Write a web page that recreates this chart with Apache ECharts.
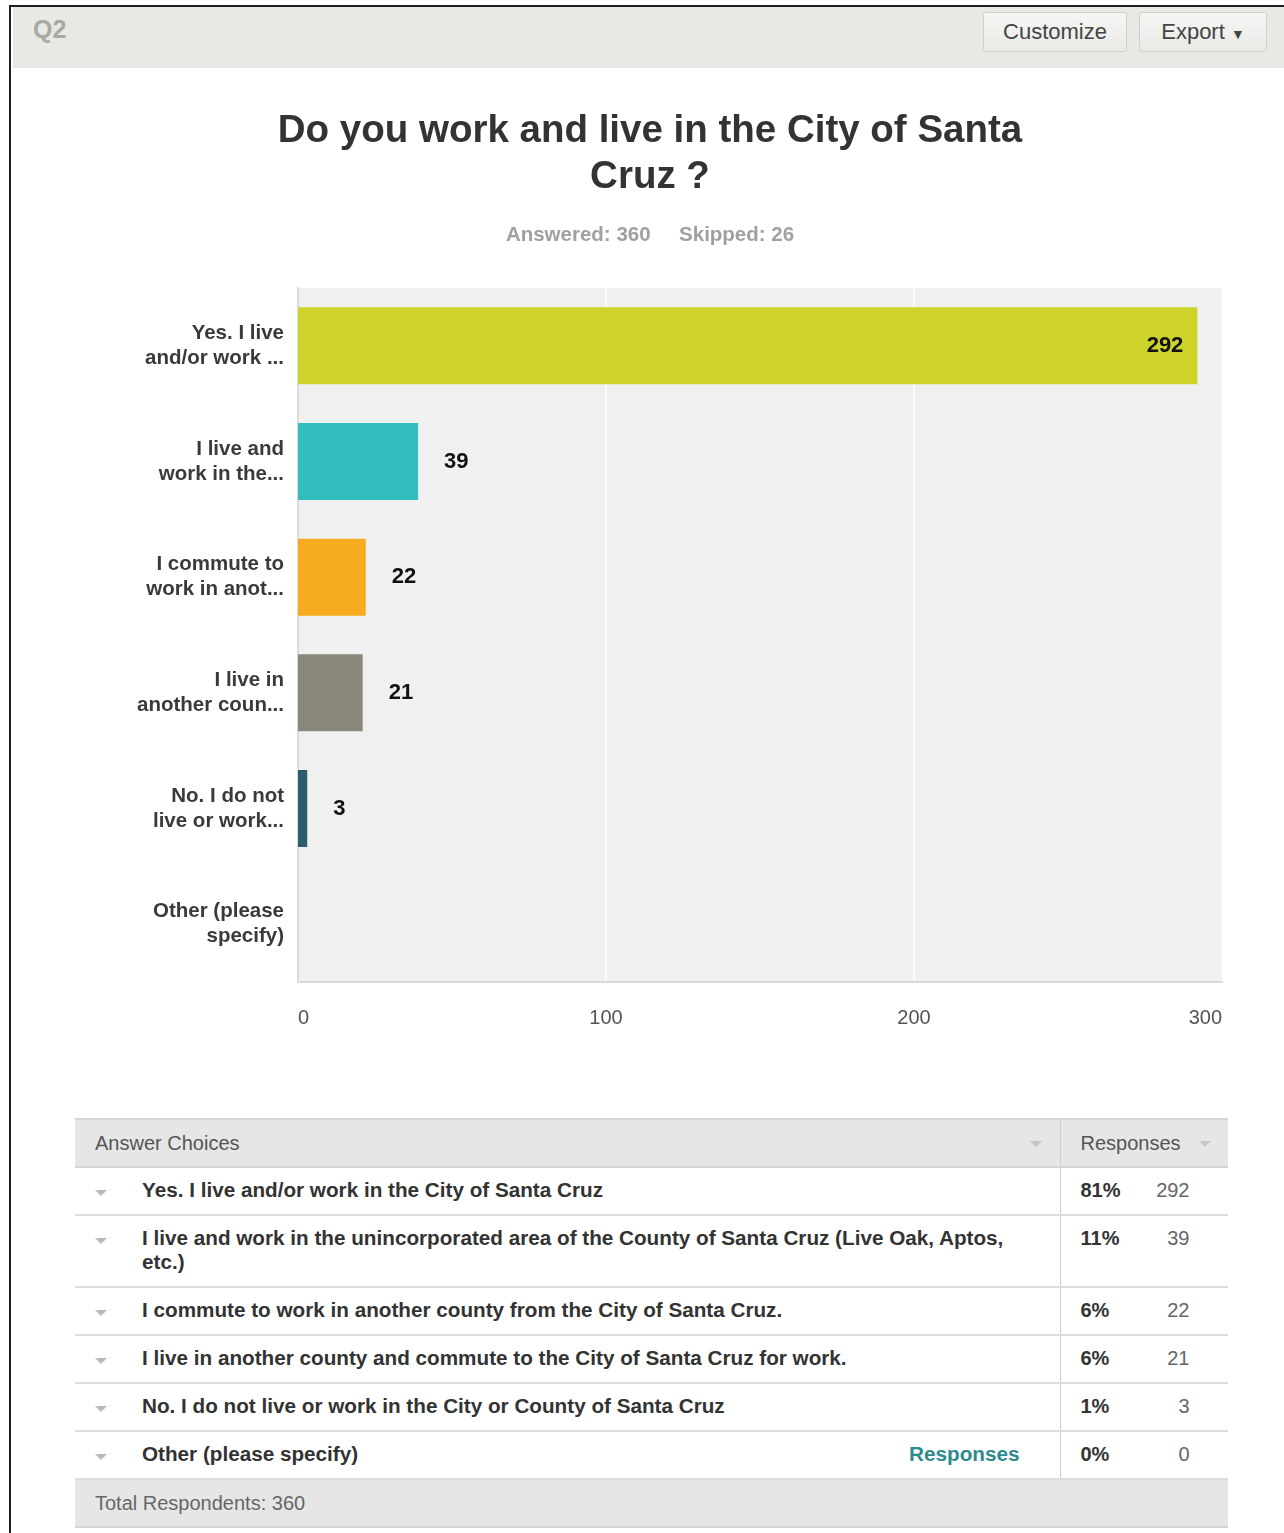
<!DOCTYPE html>
<html>
<head>
<meta charset="utf-8">
<script src="https://cdn.jsdelivr.net/npm/echarts@6/dist/echarts.min.js"></script>
<style>
  html, body { margin: 0; padding: 0; background: #fff; }
  body { width: 1284px; height: 1533px; position: relative; overflow: hidden;
         font-family: "Liberation Sans", Arial, sans-serif; }
  .frame { position: absolute; left: 9px; top: 5px; right: -2px; bottom: -2px;
           border-left: 2px solid #1e1e1e; border-top: 2px solid #1e1e1e; }
  .topbar { position: absolute; left: 13px; top: 7px; width: 1271px; height: 61px;
            background: #e8e8e5; }
  .qnum { position: absolute; left: 33px; top: 15px; font-size: 25px; font-weight: bold; color: #a8a8a5; }
  .btn { position: absolute; top: 12px; height: 38px; border: 1px solid #cfcfcc; border-radius: 3px;
         background: linear-gradient(#f6f6f4, #e9e9e6); color: #444; font-size: 22px;
         line-height: 38px; text-align: center; box-sizing: content-box; }
  #chart { position: absolute; left: 16px; top: 70px; width: 1268px; height: 1000px; }
  table.resp { position: absolute; left: 75px; top: 1118px; width: 1153px; table-layout: fixed;
               border-collapse: collapse; font-size: 20px; }
  table.resp td { padding: 0; vertical-align: top; }
  tr.head td { background: #e6e6e6; color: #555; height: 46px; vertical-align: middle;
               border-top: 2px solid #d4d4d4; border-bottom: 2px solid #d4d4d4; }
  tr.row td { border-bottom: 2px solid #dcdcdc; color: #333; }
  tr.foot td { background: #e6e6e6; color: #666; height: 46px; vertical-align: middle;
               border-bottom: 2px solid #d4d4d4; }
  .caret { display: inline-block; width: 0; height: 0; border-left: 6px solid transparent;
           border-right: 6px solid transparent; border-top: 6px solid #b9b9b9; }
  td.choice { position: relative; }
  td.choice .c { position: absolute; left: 20px; top: 22px; }
  td.choice .t { display: block; padding: 10px 0 12px 67px; width: 880px; line-height: 24px;
                 font-weight: bold; font-size: 20.7px; }
  td.choice .link { position: absolute; right: 40px; top: 10px; line-height: 24px; color: #2e8b8c;
                    font-weight: bold; font-size: 20.7px; }
  td.pct { border-left: 1px solid #cfcfcf; }
  td.pct .p { display: inline-block; width: 70px; padding: 10px 0 0 20px; font-weight: bold; line-height: 24px; }
  td.pct .n { display: inline-block; width: 39px; text-align: right; color: #666; line-height: 24px; }
</style>
</head>
<body>
<div class="frame"></div>
<div class="topbar"></div>
<div class="qnum">Q2</div>
<div class="btn" style="left:983px;width:142px;">Customize</div>
<div class="btn" style="left:1139px;width:126px;">Export <span style="font-size:14px;">&#9660;</span></div>
<div id="chart"></div>
<table class="resp" id="resp"><colgroup><col style="width:985px"><col style="width:168px"></colgroup></table>
<script>
// Survey question Q2 — response counts per answer choice
const questionTitle = "Do you work and live in the City of Santa\nCruz ?";
const answeredCount = 360;
const skippedCount = 26;

// short labels shown on the bar chart axis
const shortLabels = [
  "Yes. I live\nand/or work ...",
  "I live and\nwork in the...",
  "I commute to\nwork in anot...",
  "I live in\nanother coun...",
  "No. I do not\nlive or work...",
  "Other (please\nspecify)"
];
// full answer wording for the table
const answerChoices = [
  "Yes. I live and/or work in the City of Santa Cruz",
  "I live and work in the unincorporated area of the County of Santa Cruz (Live Oak, Aptos, etc.)",
  "I commute to work in another county from the City of Santa Cruz.",
  "I live in another county and commute to the City of Santa Cruz for work.",
  "No. I do not live or work in the City or County of Santa Cruz",
  "Other (please specify)"
];
const responseCounts = [292, 39, 22, 21, 3, 0];
const responsePercents = ["81%", "11%", "6%", "6%", "1%", "0%"];
const barColors = ["#cdd329", "#33bdbf", "#f5ad1f", "#898878", "#2b5d6a", "#b6b6b6"];
const xTicks = [0, 100, 200, 300];
const totalRespondents = 360;

const FONT = '"Liberation Sans", Arial, sans-serif';
const xMax = xTicks[xTicks.length - 1];

const chart = echarts.init(document.getElementById('chart'), null, { renderer: 'canvas' });

chart.setOption({
  animation: false,
  textStyle: { fontFamily: FONT },
  title: [
    {
      text: questionTitle,
      left: 'center',
      top: 33,
      textStyle: { fontSize: 38.5, fontWeight: 'bold', color: '#333', lineHeight: 46, fontFamily: FONT }
    },
    {
      text: 'Answered: ' + answeredCount + '     Skipped: ' + skippedCount,
      left: 'center',
      top: 148,
      textStyle: { fontSize: 20.5, fontWeight: 'bold', color: '#a0a0a0', lineHeight: 24, fontFamily: FONT }
    }
  ],
  grid: {
    left: 282, top: 218, width: 924, height: 694,
    show: true, backgroundColor: '#f0f0f0', borderWidth: 0,
    containLabel: false
  },
  xAxis: {
    type: 'value',
    min: xTicks[0], max: xMax, interval: xTicks[1] - xTicks[0],
    axisLine: { show: true, lineStyle: { color: '#d9d9d9', width: 2 } },
    axisTick: { show: false },
    splitLine: { show: true, lineStyle: { color: '#fafafa', width: 2 } },
    axisLabel: {
      margin: 26, fontSize: 20, color: '#555', fontFamily: FONT,
      alignMinLabel: 'left', alignMaxLabel: 'right'
    }
  },
  yAxis: {
    type: 'category',
    inverse: true,
    data: shortLabels,
    axisLine: { show: true, lineStyle: { color: '#dcdcdc', width: 2 } },
    axisTick: { show: false },
    axisLabel: {
      margin: 14, fontSize: 20.5, fontWeight: 'bold', color: '#3a3a3a', lineHeight: 25,
      align: 'right', fontFamily: FONT
    }
  },
  series: [{
    type: 'bar',
    barWidth: 77,
    data: responseCounts.map((v, i) => ({
      value: v,
      itemStyle: { color: barColors[i] },
      label: v / xMax > 0.5
        ? { position: 'insideRight', distance: 14 }
        : { position: 'right', distance: 26 }
    })),
    label: {
      show: true,
      fontSize: 22, fontWeight: 'bold', color: '#111', fontFamily: FONT,
      formatter: p => (p.value > 0 ? String(p.value) : '')
    }
  }]
});

// response table built from the same arrays
const tbl = document.getElementById('resp');
let html = '<tr class="head"><td style="position:relative;padding-left:20px;">Answer Choices' +
  '<span class="caret" style="position:absolute;left:955px;top:21px;border-top-color:#c4c4c4;"></span></td>' +
  '<td class="pct" style="padding-left:20px;position:relative;">Responses' +
  '<span class="caret" style="position:absolute;left:138px;top:21px;border-top-color:#c9c9c9;"></span></td></tr>';
answerChoices.forEach((a, i) => {
  const isOther = i === answerChoices.length - 1;
  html += '<tr class="row"><td class="choice"><span class="caret c"></span>' +
    '<span class="t">' + a + '</span>' +
    (isOther ? '<span class="link">Responses</span>' : '') +
    '</td><td class="pct"><span class="p">' + responsePercents[i] + '</span>' +
    '<span class="n">' + responseCounts[i] + '</span></td></tr>';
});
html += '<tr class="foot"><td colspan="2" style="padding-left:20px;">Total Respondents: ' + totalRespondents + '</td></tr>';
tbl.insertAdjacentHTML('beforeend', html);
</script>
</body>
</html>
